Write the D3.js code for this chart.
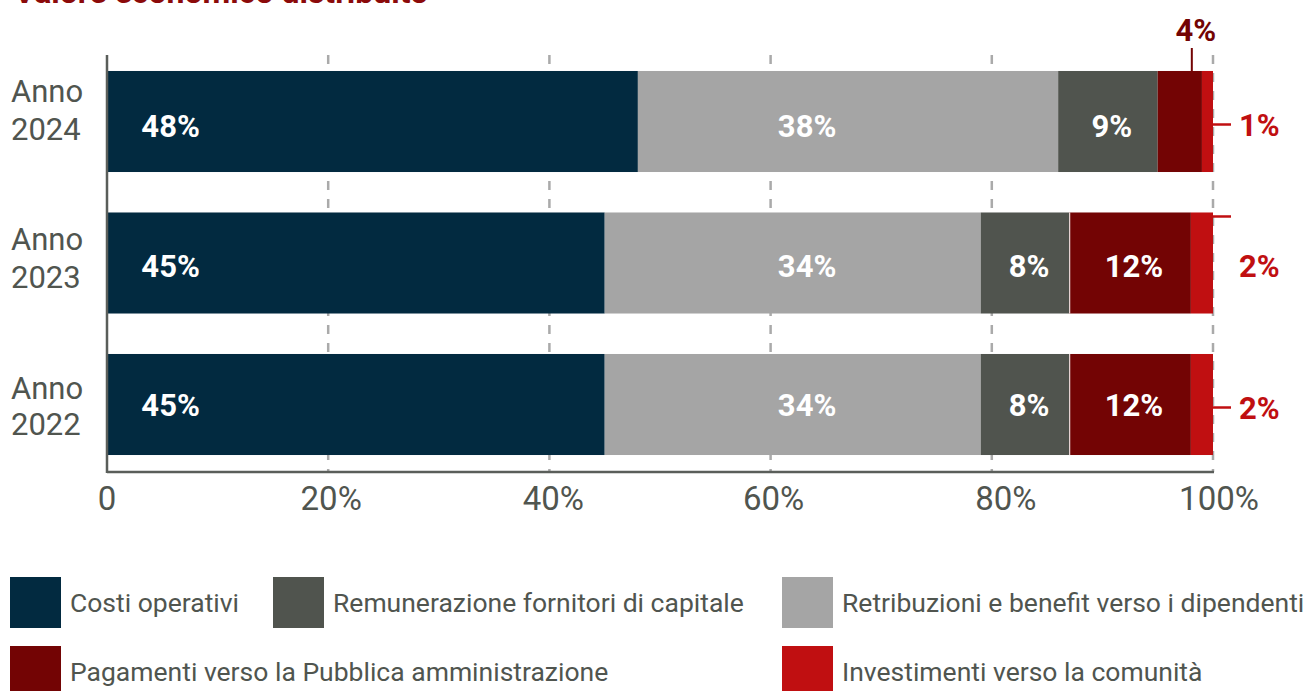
<!DOCTYPE html>
<html><head><meta charset="utf-8">
<script src="https://cdn.jsdelivr.net/npm/d3@7"></script>
<style>
html,body{margin:0;padding:0;background:#fff;}
svg{display:block;font-family:Roboto,"Noto Sans",sans-serif;}
</style></head>
<body><svg id="c" width="1309" height="691"></svg>
<script>
// ---- data ----
const title = "Valore economico distribuito";
const years = ["2024", "2023", "2022"];
const seriesNames = ["Costi operativi", "Retribuzioni e benefit verso i dipendenti", "Remunerazione fornitori di capitale", "Pagamenti verso la Pubblica amministrazione", "Investimenti verso la comunità"];
const costiOperativi = [48, 45, 45];
const retribuzioni = [38, 34, 34];
const remunerazione = [9, 8, 8];
const pagamentiPA = [4, 11, 11];
const investimenti = [1, 2, 2];
const labelsCosti = ["48%", "45%", "45%"];
const labelsRetribuzioni = ["38%", "34%", "34%"];
const labelsRemunerazione = ["9%", "8%", "8%"];
const labelsPA = ["4%", "12%", "12%"];
const labelsInvestimenti = ["1%", "2%", "2%"];
const xTicks = [0, 20, 40, 60, 80, 100];
const xTickLabels = ["0", "20%", "40%", "60%", "80%", "100%"];

// ---- style / layout ----
const colors = ["#022a40", "#a5a5a5", "#50544e", "#730404", "#c00f11"];
const legendOrder = [0, 2, 1, 3, 4];
const tickShift = [0, 3, 4, 3, 14, 6];
const yLabelShift = [[-19.5, 18.5], [-13.5, 24.5], [-5.5, 30.5]];
const innerLabelShift = [15, 14, 11];

const seriesValues = [costiOperativi, retribuzioni, remunerazione, pagamentiPA, investimenti];
const seriesLabels = [labelsCosti, labelsRetribuzioni, labelsRemunerazione, labelsPA, labelsInvestimenti];

const table = years.map((y, i) => {
  const o = {year: y};
  seriesNames.forEach((k, j) => o[k] = seriesValues[j][i]);
  return o;
});
const stack = d3.stack().keys(seriesNames)(table);

const svg = d3.select("#c");
const textGray = "#50554f";

const x = d3.scaleLinear().domain([0, 100]).range([107, 1213]);
const y = d3.scaleBand().domain(years).range([50.75, 475.25]).paddingInner(0.286).paddingOuter(0.143);
const axisY = 472;

// title (cut off at top, as in the reference)
svg.append("text").attr("x", 14).attr("y", 3).attr("font-size", 32).attr("font-weight", 700)
  .attr("fill", "#8b0a0a").text(title);

// gridlines (dashed)
svg.append("g").selectAll("line").data(xTicks.slice(1)).join("line")
  .attr("x1", d => x(d)).attr("x2", d => x(d))
  .attr("y1", 55).attr("y2", axisY)
  .attr("stroke", "#aaaaaa").attr("stroke-width", 2.5).attr("stroke-dasharray", "9,9");

// bars
const g = svg.append("g");
stack.forEach((s, j) => {
  g.append("g").attr("fill", colors[j]).selectAll("rect").data(s).join("rect")
    .attr("x", d => x(d[0])).attr("width", d => x(d[1]) - x(d[0]))
    .attr("y", d => y(d.data.year)).attr("height", y.bandwidth());
});
// thin white separator before PA segment
g.append("g").selectAll("line").data(stack[3]).join("line")
  .attr("x1", d => x(d[0]) + 0.5).attr("x2", d => x(d[0]) + 0.5)
  .attr("y1", d => y(d.data.year)).attr("y2", d => y(d.data.year) + y.bandwidth())
  .attr("stroke", "#fff").attr("stroke-width", 1)
  .attr("opacity", (d, i) => i === 0 ? 0 : 1);

// axes
svg.append("line").attr("x1", x(0)).attr("x2", x(0)).attr("y1", 55).attr("y2", axisY + 1)
  .attr("stroke", "#5a5e5a").attr("stroke-width", 2.5);
svg.append("line").attr("x1", x(0)).attr("x2", x(100) + 1).attr("y1", axisY).attr("y2", axisY)
  .attr("stroke", "#5a5e5a").attr("stroke-width", 2.5);

// x tick labels
svg.append("g").selectAll("text").data(xTicks).join("text")
  .attr("x", (d, i) => x(d) + tickShift[i]).attr("y", 510)
  .attr("text-anchor", "middle").attr("font-size", 33).attr("fill", textGray)
  .text((d, i) => xTickLabels[i]);

// y labels
years.forEach((yr, i) => {
  const yc = y(yr) + y.bandwidth() / 2;
  const t = svg.append("text").attr("font-size", 31).attr("fill", textGray);
  t.append("tspan").attr("x", 11).attr("y", yc + yLabelShift[i][0]).text("Anno");
  t.append("tspan").attr("x", 11).attr("y", yc + yLabelShift[i][1]).text(yr);
});

// inner bar labels
[0, 1, 2, 3].forEach(j => {
  svg.append("g").selectAll("text").data(stack[j]).join("text")
    .attr("x", (d, i) => {
      if (j === 0) return x(d[0] + 5.75);
      if (j === 1) return x(63.3);
      return (x(d[0]) + x(d[1])) / 2 + 4;
    })
    .attr("y", (d, i) => y(d.data.year) + y.bandwidth() / 2 + innerLabelShift[i])
    .attr("text-anchor", "middle").attr("font-size", 31).attr("font-weight", 700)
    .attr("fill", "#fff")
    .text((d, i) => (j === 3 && i === 0) ? "" : seriesLabels[j][i]);
});

// 4% annotation above 2024 PA segment
const pa0 = stack[3][0];
const paX = (x(pa0[0]) + x(pa0[1])) / 2 + 12;
svg.append("line").attr("x1", paX).attr("x2", paX)
  .attr("y1", y(years[0]) - 23).attr("y2", y(years[0]))
  .attr("stroke", colors[3]).attr("stroke-width", 2);
svg.append("text").attr("x", paX + 4).attr("y", y(years[0]) - 30)
  .attr("text-anchor", "middle").attr("font-size", 31).attr("font-weight", 700)
  .attr("fill", colors[3]).text(labelsPA[0]);

// investimenti annotations to the right
const leaderAtTop = [false, true, false];
stack[4].forEach((d, i) => {
  const yc = y(d.data.year) + y.bandwidth() / 2;
  const ly = leaderAtTop[i] ? y(d.data.year) + 4 : yc + 3;
  svg.append("line").attr("x1", x(d[1])).attr("x2", x(d[1]) + 18)
    .attr("y1", ly).attr("y2", ly)
    .attr("stroke", colors[4]).attr("stroke-width", 2.5);
  svg.append("text").attr("x", x(d[1]) + 26).attr("y", yc + 14)
    .attr("font-size", 31).attr("font-weight", 700).attr("fill", colors[4])
    .text(labelsInvestimenti[i]);
});

// legend
const legendPos = [[10, 577], [273, 577], [782, 577], [10, 646], [782, 646]];
legendOrder.forEach((s, k) => {
  const [lx, ly] = legendPos[k];
  svg.append("rect").attr("x", lx).attr("y", ly).attr("width", 51).attr("height", 51).attr("fill", colors[s]);
  svg.append("text").attr("x", lx + 60).attr("y", ly + 35).attr("font-size", 26.5)
    .attr("fill", textGray).text(seriesNames[s]);
});
</script></body></html>
